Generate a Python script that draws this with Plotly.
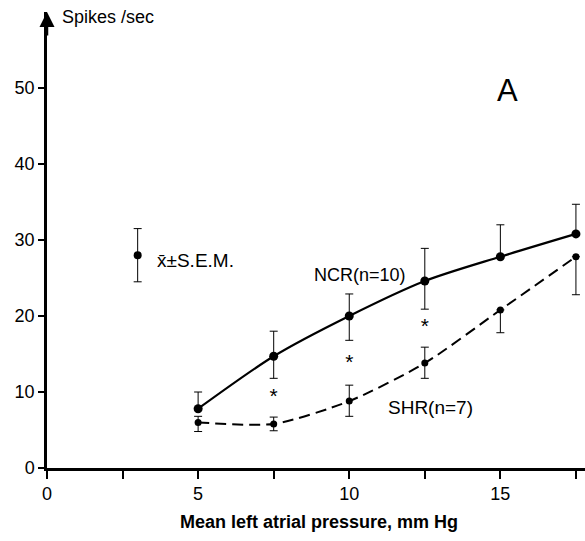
import plotly.graph_objects as go

pressure = [5, 7.5, 10, 12.5, 15, 17.5]

ncr_mean = [7.8, 14.7, 20.0, 24.6, 27.8, 30.8]
ncr_err_plus = [2.2, 3.3, 2.9, 4.3, 4.2, 3.9]
ncr_err_minus = [0, 2.9, 3.2, 3.7, 0, 0]

shr_mean = [6.0, 5.8, 8.8, 13.8, 20.8, 27.8]
shr_err_plus = [0.8, 0.9, 2.1, 2.1, 0, 0]
shr_err_minus = [1.2, 0.9, 2.0, 2.0, 3.0, 5.0]

star_x = [7.5, 10, 12.5]
star_y = [9.3, 13.7, 18.4]

legend_x = [3.0]
legend_y = [28.0]
legend_err = [3.5]

x_tickvals = [0, 2.5, 5, 7.5, 10, 12.5, 15, 17.5]
x_ticktext = ["0", "", "5", "", "10", "", "15", ""]
y_tickvals = [0, 10, 20, 30, 40, 50]

FONT = "Liberation Sans"

fig = go.Figure()

fig.add_trace(go.Scatter(
    x=pressure, y=ncr_mean, mode="lines+markers",
    line=dict(color="black", width=2.2, shape="spline", smoothing=0.8),
    marker=dict(color="black", size=9),
    error_y=dict(type="data", symmetric=False, array=ncr_err_plus,
                 arrayminus=ncr_err_minus, color="black", thickness=1, width=4),
    cliponaxis=False, showlegend=False))

fig.add_trace(go.Scatter(
    x=pressure, y=shr_mean, mode="lines+markers",
    line=dict(color="black", width=2, dash="11px,6px", shape="spline", smoothing=0.7),
    marker=dict(color="black", size=7),
    error_y=dict(type="data", symmetric=False, array=shr_err_plus,
                 arrayminus=shr_err_minus, color="black", thickness=1, width=4),
    cliponaxis=False, showlegend=False))

fig.add_trace(go.Scatter(
    x=star_x, y=star_y, mode="text", text=["*"] * len(star_x),
    textfont=dict(family=FONT, size=21, color="black"), showlegend=False))

fig.add_trace(go.Scatter(
    x=legend_x, y=legend_y, mode="markers",
    marker=dict(color="black", size=8),
    error_y=dict(type="data", array=legend_err, color="black", thickness=1, width=4),
    showlegend=False))

annotations = [
    dict(x=3.58, y=27.3, xref="x", yref="y", text="x̄±S.E.M.", showarrow=False,
         xanchor="left", yanchor="middle", font=dict(family=FONT, size=19, color="black")),
    dict(x=8.77, y=25.4, xref="x", yref="y", text="NCR(n=10)", showarrow=False,
         xanchor="left", yanchor="middle", font=dict(family=FONT, size=18, color="black")),
    dict(x=11.2, y=8.0, xref="x", yref="y", text="SHR(n=7)", showarrow=False,
         xanchor="left", yanchor="middle", font=dict(family=FONT, size=19, color="black")),
    dict(x=14.83, y=49.7, xref="x", yref="y", text="A", showarrow=False,
         xanchor="left", yanchor="middle", font=dict(family=FONT, size=31, color="black")),
    dict(x=0.024, y=0.989, xref="paper", yref="paper", text="Spikes /sec", showarrow=False,
         xanchor="left", yanchor="middle", font=dict(family=FONT, size=18, color="black")),
    dict(x=0.506, y=-0.118, xref="paper", yref="paper",
         text="<b>Mean left atrial pressure, mm Hg</b>", showarrow=False,
         xanchor="center", yanchor="middle", font=dict(family=FONT, size=18, color="black")),
    # y-axis arrow head
    dict(x=0, y=60, xref="x", yref="y", ax=0, ay=25, showarrow=True, arrowhead=2,
         arrowsize=1.2, arrowwidth=2.5, arrowcolor="black", text=""),
]

fig.update_layout(
    width=585, height=541,
    margin=dict(l=47, r=0, t=12, b=73),
    plot_bgcolor="white", paper_bgcolor="white",
    annotations=annotations,
    xaxis=dict(range=[0, 17.8], tickvals=x_tickvals, ticktext=x_ticktext,
               showline=True, linecolor="black", linewidth=2.5, mirror=False,
               ticks="outside", ticklen=8, tickwidth=1.5, tickcolor="black",
               showgrid=False, zeroline=False,
               tickfont=dict(family=FONT, size=18, color="black")),
    yaxis=dict(range=[0, 60], tickvals=y_tickvals,
               showline=True, linecolor="black", linewidth=2.5,
               ticks="outside", ticklen=6, tickwidth=1.5, tickcolor="black",
               showgrid=False, zeroline=False,
               tickfont=dict(family=FONT, size=18, color="black")),
)

fig.write_html("out.html")
